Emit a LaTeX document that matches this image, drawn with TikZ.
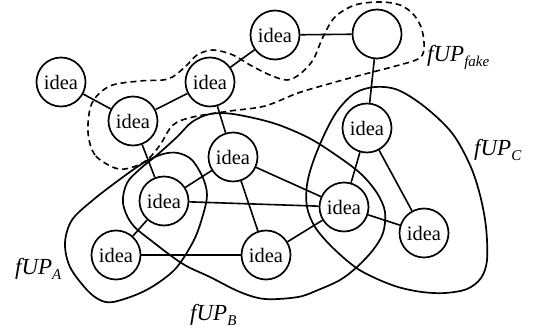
\documentclass[tikz,border=0pt]{standalone}
\usepackage{fontspec}
\setmainfont{Liberation Serif}
\begin{document}
\begin{tikzpicture}[x=1pt,y=-1pt,
  idea/.style={circle,draw,line width=1.7pt,minimum size=49pt,inner sep=0pt,font=\fontsize{20.5}{20.5}\selectfont},
  edge/.style={line width=1.6pt},
  blob/.style={line width=1.7pt},
  fakeblob/.style={line width=1.6pt,dash pattern=on 6pt off 4pt},
  lbl/.style={anchor=base west,inner sep=0pt,font=\fontsize{23}{23}\selectfont\itshape}]
\useasboundingbox (0,0) rectangle (535,329);
% nodes
\node[idea] (n1) at (61,82) {idea};
\node[idea] (n2) at (133,121) {idea};
\node[idea] (n3) at (210,82) {idea};
\node[idea] (n5) at (275,35) {idea};
\node[idea] (n6) at (377,34) {};
\node[idea] (n7) at (367,128) {idea};
\node[idea] (n4) at (233,157) {idea};
\node[idea] (n8) at (164,201) {idea};
\node[idea] (n9) at (116,255) {idea};
\node[idea] (n10) at (266,255) {idea};
\node[idea] (n11) at (344,207) {idea};
\node[idea] (n12) at (424,233) {idea};
% edges
\draw[edge] (n1) -- (n2);
\draw[edge] (n2) -- (n3);
\draw[edge] (n3) -- (n5);
\draw[edge] (n5) -- (n6);
\draw[edge] (n6) -- (n7);
\draw[edge] (n3) -- (n4);
\draw[edge] (n2) -- (n8);
\draw[edge] (n4) -- (n8);
\draw[edge] (n4) -- (n10);
\draw[edge] (n4) -- (n11);
\draw[edge] (n8) -- (n11);
\draw[edge] (n8) -- (n9);
\draw[edge] (n9) -- (n10);
\draw[edge] (n10) -- (n11);
\draw[edge] (n7) -- (n11);
\draw[edge] (n7) -- (n12);
\draw[edge] (n11) -- (n12);
% fake (dashed)
\draw[fakeblob] plot[smooth cycle,tension=0.55] coordinates {
 (115,168) (95,155) (88,132) (92,103) (110,86) (140,81) (168,79) (185,67)
 (197,55) (213,50) (233,55) (250,65) (270,75) (287,80) (300,74) (313,60)
 (323,37) (335,17) (355,5) (380,2) (400,5) (414,15) (422,30) (424,49)
 (418,59) (392,67) (365,74) (332,83) (298,93) (265,106) (230,111) (193,117)
 (173,125) (160,145) (147,160) (130,168)};
% C
\draw[blob] plot[smooth cycle,tension=0.55] coordinates {
 (375,87) (398,90) (425,107) (452,133) (470,165) (480,195) (486,227) (487,260)
 (481,278) (467,289) (445,293) (422,292) (398,287) (375,278) (355,267) (332,247)
 (315,227) (307,207) (307,185) (313,162) (325,133) (338,110) (355,93)};
% B
\draw[blob] plot[smooth cycle,tension=0.55] coordinates {
 (123,203) (127,183) (140,169) (157,155) (177,137) (192,122) (210,114) (233,114)
 (273,123) (307,137) (333,153) (360,173) (377,193) (385,212) (383,233) (373,250)
 (357,267) (340,280) (318,290) (298,297) (265,299) (240,292) (210,277) (183,264)
 (153,242) (132,224)};
% A
\draw[blob] plot[smooth cycle,tension=0.55] coordinates {
 (93,200) (123,177) (145,162) (163,154) (178,153) (192,160) (203,178) (207,195)
 (203,215) (194,240) (177,267) (158,283) (138,294) (113,302) (100,300) (87,290)
 (70,267) (65,243) (72,220)};
% labels
\node[lbl] (lfake) at (427,62) {fUP\raisebox{-5pt}{\fontsize{15}{15}\selectfont fake}};
\node[lbl] (lC) at (474,155) {fUP\raisebox{-5pt}{\fontsize{15}{15}\selectfont C}};
\node[lbl] (lA) at (15,274) {fUP\raisebox{-5pt}{\fontsize{15}{15}\selectfont A}};
\node[lbl] (lB) at (190,320) {fUP\raisebox{-5pt}{\fontsize{15}{15}\selectfont B}};
\end{tikzpicture}
\end{document}
